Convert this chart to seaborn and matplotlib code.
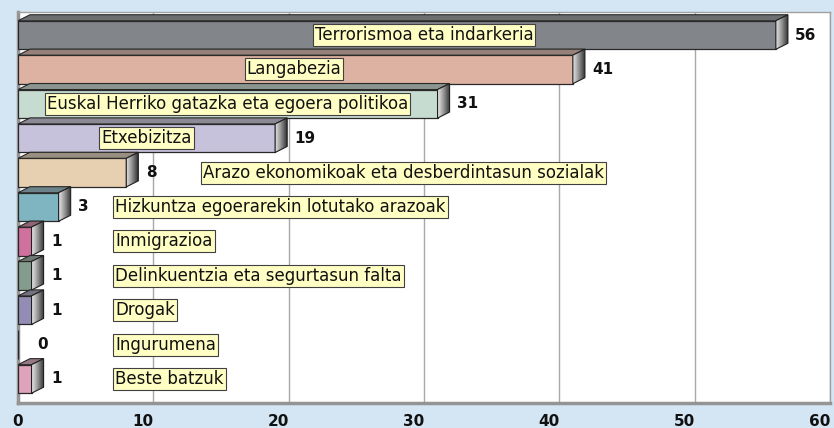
import numpy as np
import pandas as pd
import matplotlib
matplotlib.use('Agg')
import matplotlib.pyplot as plt
import seaborn as sns
from matplotlib.patches import Polygon
from matplotlib.colors import LinearSegmentedColormap, to_rgb

# datuak
categories = ["Terrorismoa eta indarkeria",
              "Langabezia",
              "Euskal Herriko gatazka eta egoera politikoa",
              "Etxebizitza",
              "Arazo ekonomikoak eta desberdintasun sozialak",
              "Hizkuntza egoerarekin lotutako arazoak",
              "Inmigrazioa",
              "Delinkuentzia eta segurtasun falta",
              "Drogak",
              "Ingurumena",
              "Beste batzuk"]
values = [56, 41, 31, 19, 8, 3, 1, 1, 1, 0, 1]
bar_colors = ["#80868C", "#E8AD98", "#C3E0CF", "#C5BEDF", "#F0D0A8",
              "#74BCCB", "#E0609A", "#80A08C", "#8E86BC", "#CCCCCC", "#E898BA"]
xticks = [0, 10, 20, 30, 40, 50, 60]

# yellow name boxes: x anchor (axis units) and alignment
label_x = [30.0, 20.4, 15.5, 9.5, 28.5, 7.2, 7.2, 7.2, 7.2, 7.2, 7.2]
label_ha = ["center"] * 5 + ["left"] * 6

df = pd.DataFrame({"cat": categories, "val": values})

sns.set_style("white")
plt.rcParams["font.family"] = ["DejaVu Sans"]

fig = plt.figure(figsize=(8.34, 4.28), dpi=100, facecolor="#D4E6F4")
ax = fig.add_axes([0.0216, 0.0584, 0.9736, 0.9136])
ax.set_facecolor("white")

sns.barplot(data=df, x="val", y="cat", hue="cat", palette=bar_colors,
            orient="h", width=0.83, legend=False, edgecolor="#282828",
            linewidth=0.9, ax=ax, zorder=3)

ax.set_xlim(0, 60)
ax.set_ylim(10.7, -0.67)

# 3d depth of the bars (axis units)
dx, dy = 0.89, 0.175
side_cmap = LinearSegmentedColormap.from_list("side", ["#E4E4E4", "#8A8A8A", "#252525"])
grad = np.linspace(0, 1, 64).reshape(1, -1)

for p in list(ax.patches):
    w = p.get_width()
    if w <= 0:
        continue
    y0 = p.get_y()
    h = p.get_height()
    c = np.array(to_rgb(p.get_facecolor()))
    top_col = 0.45 * c + 0.55 * np.array(to_rgb("#5A5A5A"))
    top = Polygon([(0, y0), (w, y0), (w + dx, y0 - dy), (dx, y0 - dy)],
                  closed=True, facecolor=top_col, edgecolor="#282828",
                  linewidth=0.8, zorder=3)
    ax.add_patch(top)
    side = Polygon([(w, y0), (w + dx, y0 - dy), (w + dx, y0 + h - dy), (w, y0 + h)],
                   closed=True, facecolor="none", edgecolor="#202020",
                   linewidth=0.8, zorder=4)
    ax.add_patch(side)
    im = ax.imshow(grad, extent=[w, w + dx, y0 + h, y0 - dy], aspect="auto",
                   cmap=side_cmap, zorder=3.5)
    im.set_clip_path(side)

ax.set_xlim(0, 60)
ax.set_ylim(10.7, -0.67)

# value labels
for i, v in enumerate(values):
    ax.annotate(str(v), xy=(v, i), xytext=(14, 0), textcoords="offset points",
                ha="left", va="center", fontsize=11, fontweight="bold",
                color="#111111", zorder=6)

# name boxes
for i, name in enumerate(categories):
    ax.text(label_x[i], i, name, ha=label_ha[i], va="center", fontsize=12,
            color="#111111", zorder=7,
            bbox=dict(boxstyle="square,pad=0.12", facecolor="#FFFFC4",
                      edgecolor="#404040", linewidth=0.8))

ax.set_xticks(xticks)
ax.set_xticklabels([str(t) for t in xticks], fontsize=11, fontweight="bold")
# tick labels sit to the left of their gridline, except the zero
for k, lab in enumerate(ax.get_xticklabels()):
    lab.set_horizontalalignment("center" if k == 0 else "right")
ax.tick_params(axis="x", length=0, pad=8, colors="#111111")
ax.set_yticks([])
ax.set_xlabel("")
ax.set_ylabel("")
ax.grid(axis="x", color="#A8A8A8", linewidth=1, zorder=0)
ax.set_axisbelow(True)

for s in ["top", "right"]:
    ax.spines[s].set_color("#A0A0A0")
    ax.spines[s].set_linewidth(1)
for s in ["left", "bottom"]:
    ax.spines[s].set_color("#949494")
    ax.spines[s].set_linewidth(2.5)

fig.savefig("out.png", dpi=100, facecolor=fig.get_facecolor())
